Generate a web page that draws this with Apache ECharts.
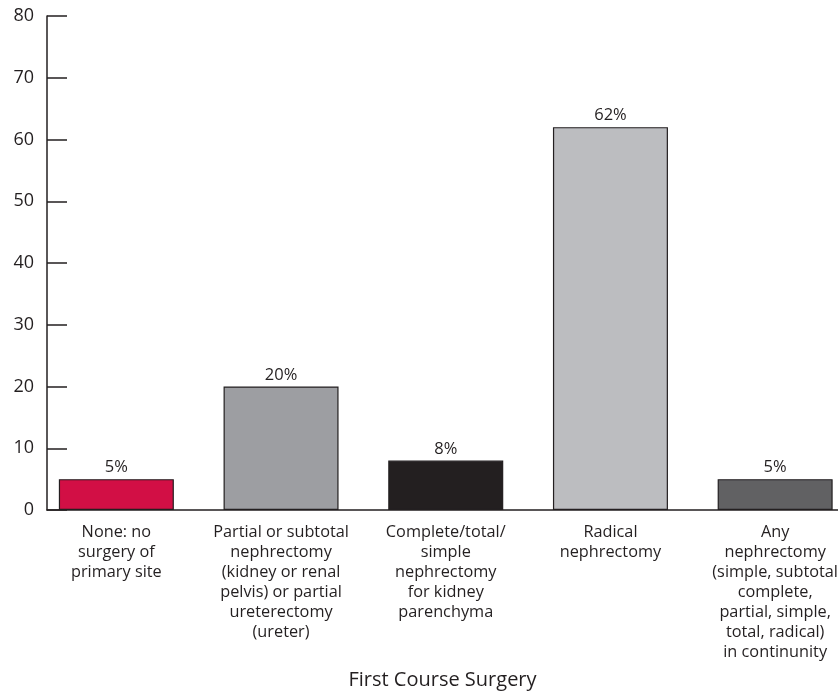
<!DOCTYPE html>
<html>
<head>
<meta charset="utf-8">
<script src="https://cdn.jsdelivr.net/npm/echarts@6/dist/echarts.min.js"></script>
<style>
html,body{margin:0;padding:0;background:#fff;}
#chart{width:838px;height:694px;}
</style>
</head>
<body>
<div id="chart"></div>
<script>
const categories = [
  "None: no\nsurgery of\nprimary site",
  "Partial or subtotal\nnephrectomy\n(kidney or renal\npelvis) or partial\nureterectomy\n(ureter)",
  "Complete/total/\nsimple\nnephrectomy\nfor kidney\nparenchyma",
  "Radical\nnephrectomy",
  "Any\nnephrectomy\n(simple, subtotal\ncomplete,\npartial, simple,\ntotal, radical)\nin continunity"
];
const values = [5, 20, 8, 62, 5];
const barColors = ["#d20f45", "#9d9ea2", "#231f20", "#bcbdc0", "#616163"];
const xTitle = "First Course Surgery";
const yMin = 0, yMax = 80, yStep = 10;

const textColor = "#231f20";
const font = "'Open Sans', sans-serif";
const chart = echarts.init(document.getElementById('chart'), null, {renderer: 'canvas'});
chart.setOption({
  animation: false,
  backgroundColor: '#ffffff',
  grid: [
    {left: 34, width: 823.5, top: 16, bottom: 184, outerBoundsMode: 'none', containLabel: false},
    {left: 47, right: 0, top: 16, bottom: 184, outerBoundsMode: 'none', containLabel: false}
  ],
  xAxis: [
    {
      type: 'category', gridIndex: 0, data: categories,
      axisLine: {show: false}, axisTick: {show: false},
      axisLabel: {interval: 0, color: textColor, fontFamily: font, fontSize: 16.3, lineHeight: 20, margin: 12, align: 'center'}
    },
    {
      type: 'value', gridIndex: 1, min: 0, max: 1,
      axisLine: {show: true, lineStyle: {color: textColor, width: 1.5}},
      axisTick: {show: false}, axisLabel: {show: false}, splitLine: {show: false},
      name: xTitle, nameLocation: 'middle', nameGap: 160,
      nameTextStyle: {color: textColor, fontFamily: font, fontSize: 20}
    }
  ],
  yAxis: [
    {
      type: 'value', gridIndex: 0, min: yMin, max: yMax, interval: yStep,
      show: false
    },
    {
      type: 'value', gridIndex: 1, min: yMin, max: yMax, interval: yStep,
      axisLine: {show: true, lineStyle: {color: textColor, width: 1.5}},
      axisTick: {show: true, inside: true, length: 20, lineStyle: {color: textColor, width: 1.5}},
      axisLabel: {color: textColor, fontFamily: font, fontSize: 18, margin: 13},
      splitLine: {show: false}
    }
  ],
  series: [{
    type: 'bar', xAxisIndex: 0, yAxisIndex: 0,
    data: values.map((v, i) => ({value: v, itemStyle: {color: barColors[i]}})),
    barWidth: 115,
    itemStyle: {borderColor: textColor, borderWidth: 1.2},
    label: {show: true, position: 'top', distance: 3, formatter: p => p.value + '%',
      color: textColor, fontFamily: font, fontSize: 16.5}
  }]
});
</script>
</body>
</html>
